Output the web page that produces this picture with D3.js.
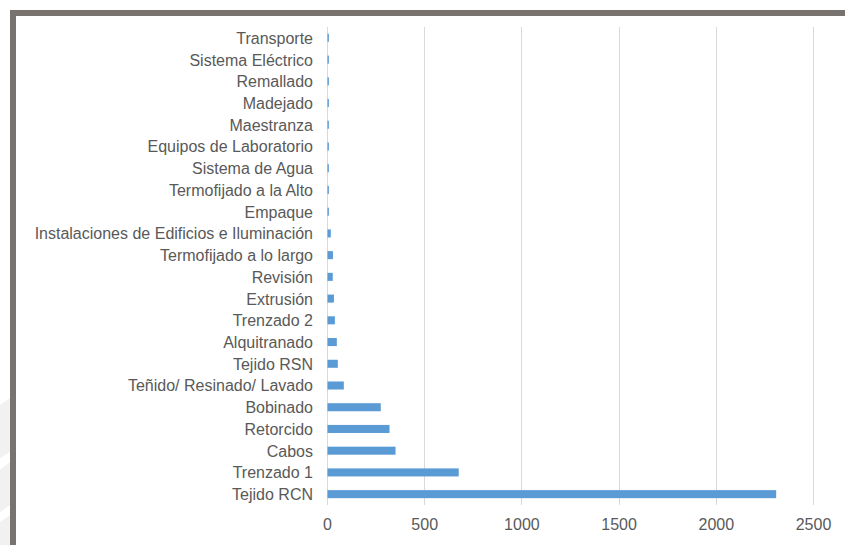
<!DOCTYPE html>
<html>
<head>
<meta charset="utf-8">
<script src="https://cdn.jsdelivr.net/npm/d3@7"></script>
<style>
  html, body { margin: 0; padding: 0; background: #fff; }
  svg { display: block; }
</style>
</head>
<body>
<svg id="chart" width="845" height="545"></svg>
<script>
// Process areas, top to bottom
const categories = [
  "Transporte", "Sistema Eléctrico", "Remallado", "Madejado", "Maestranza",
  "Equipos de Laboratorio", "Sistema de Agua", "Termofijado a la Alto", "Empaque",
  "Instalaciones de Edificios e Iluminación", "Termofijado a lo largo", "Revisión",
  "Extrusión", "Trenzado 2", "Alquitranado", "Tejido RSN", "Teñido/ Resinado/ Lavado",
  "Bobinado", "Retorcido", "Cabos", "Trenzado 1", "Tejido RCN"
];
const values = [
  7, 7, 7, 7, 7,
  7, 7, 7, 7,
  17, 28, 27,
  33, 38, 48, 53, 84,
  274, 319, 350, 675, 2308
];
const xTicks = [0, 500, 1000, 1500, 2000, 2500];

const svg = d3.select("#chart");

// Faint shapes in the left margin
svg.append("g").attr("fill", "#f1f1f1")
  .selectAll("path")
  .data([
    "M0,405 L10,398 L10,452 L0,458 Z",
    "M0,470 L10,462 L10,505 L0,512 Z",
    "M0,522 L10,515 L10,545 L0,545 Z"
  ])
  .join("path")
  .attr("d", d => d);

// Frame along top and left edges
svg.append("rect").attr("x", 10).attr("y", 10).attr("width", 835).attr("height", 6).attr("fill", "#78736f");
svg.append("rect").attr("x", 10).attr("y", 10).attr("width", 6).attr("height", 535).attr("fill", "#78736f");

const plot = { left: 327, right: 813, top: 27, bottom: 505 };

const x = d3.scaleLinear().domain([0, 2500]).range([plot.left, plot.right]);
const y = d3.scaleBand().domain(categories).range([plot.top, plot.bottom]).paddingInner(0.63).paddingOuter(0.315);

// Vertical gridlines
svg.append("g")
  .selectAll("line")
  .data(xTicks)
  .join("line")
  .attr("x1", d => Math.round(x(d)) + 0.5)
  .attr("x2", d => Math.round(x(d)) + 0.5)
  .attr("y1", plot.top)
  .attr("y2", plot.bottom)
  .attr("stroke", "#d9d9d9")
  .attr("stroke-width", 1);

// Bars
svg.append("g")
  .selectAll("rect")
  .data(categories.map((c, i) => ({ c, v: values[i] })))
  .join("rect")
  .attr("x", x(0) + 0.5)
  .attr("y", d => y(d.c))
  .attr("width", d => x(d.v) - x(0))
  .attr("height", y.bandwidth())
  .attr("fill", "#5b9bd5");

const fontFamily = "'Liberation Sans', Arial, sans-serif";

// Category axis labels
const yAxis = d3.axisLeft(y).tickSize(0).tickPadding(14);
const gy = svg.append("g").attr("transform", `translate(${plot.left},0.8)`).call(yAxis);
gy.select(".domain").remove();
gy.selectAll("text")
  .attr("fill", "#595959")
  .style("font-family", fontFamily)
  .style("font-size", "16px");

// Value axis labels
const xAxis = d3.axisBottom(x).tickValues(xTicks).tickSize(0).tickPadding(13.5).tickFormat(d3.format("d"));
const gx = svg.append("g").attr("transform", `translate(0,${plot.bottom})`).call(xAxis);
gx.select(".domain").remove();
gx.selectAll("text")
  .attr("fill", "#595959")
  .style("font-family", fontFamily)
  .style("font-size", "16px");
</script>
</body>
</html>
